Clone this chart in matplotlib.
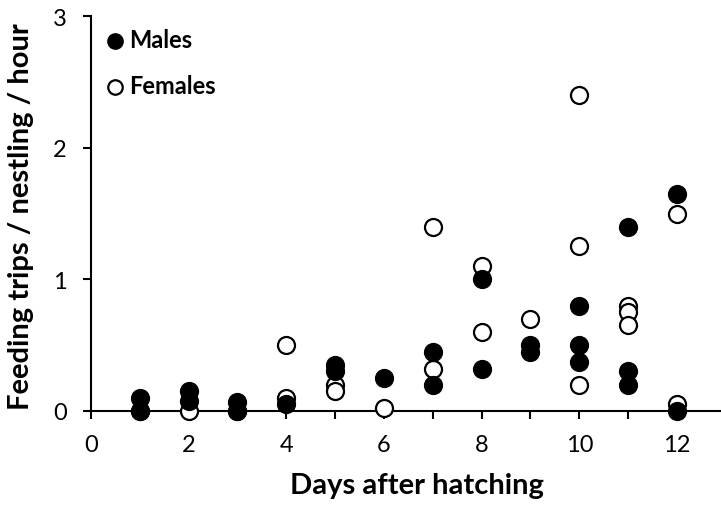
import matplotlib
matplotlib.use("Agg")
import matplotlib.pyplot as plt
from matplotlib.ticker import MultipleLocator

plt.rcParams['font.family'] = ['Lato', 'DejaVu Sans']

male_days = [1, 1, 2, 2, 3, 3, 4, 5, 5, 6, 7, 7, 8, 8, 9, 9, 10, 10, 10, 11, 11, 11, 12, 12]
male_vals = [0.1, 0.0, 0.15, 0.075, 0.07, 0.0, 0.05, 0.35, 0.3, 0.25, 0.45, 0.2, 1.0, 0.32,
             0.5, 0.45, 0.8, 0.5, 0.37, 1.4, 0.3, 0.2, 1.65, 0.0]
female_days = [1, 2, 3, 4, 4, 5, 5, 6, 7, 7, 8, 8, 9, 10, 10, 10, 11, 11, 11, 12, 12]
female_vals = [0.0, 0.0, 0.0, 0.5, 0.1, 0.2, 0.15, 0.02, 1.4, 0.32, 1.1, 0.6, 0.7,
               2.4, 1.25, 0.2, 0.8, 0.75, 0.65, 1.5, 0.05]

xticks = [0, 2, 4, 6, 8, 10, 12]
yticks = [0, 1, 2, 3]

fig = plt.figure(figsize=(7.21, 5.06), dpi=100)
ax = fig.add_axes([0.126, 0.186, 0.874, 0.78])

ax.scatter(female_days, female_vals, s=150, facecolors='white', edgecolors='black',
           linewidths=1.6, label='Females', zorder=3, clip_on=False)
ax.scatter(male_days, male_vals, s=150, facecolors='black', edgecolors='black',
           linewidths=1.6, label='Males', zorder=4, clip_on=False)

ax.set_xlim(0, 12.9)
ax.set_ylim(0, 3)
ax.set_xticks(xticks)
ax.xaxis.set_minor_locator(MultipleLocator(1))
ax.set_yticks(yticks)
ax.tick_params(axis='both', which='both', direction='out', width=1.5, length=5.5, labelsize=17)
ax.tick_params(axis='x', which='major', pad=11)
ax.tick_params(axis='y', which='major', pad=12)
for s in ['top', 'right']:
    ax.spines[s].set_visible(False)
for s in ['left', 'bottom']:
    ax.spines[s].set_linewidth(1.5)

ax.set_xlabel('Days after hatching', fontsize=21, fontweight='bold')
ax.xaxis.set_label_coords(0.517, -0.155)
ax.set_ylabel('Feeding trips / nestling / hour', fontsize=21, fontweight='bold')
ax.yaxis.set_label_coords(-0.09, 0.495)

h, l = ax.get_legend_handles_labels()
leg = ax.legend(h[::-1], l[::-1], loc='upper left', bbox_to_anchor=(-0.026, 1.012), frameon=False,
                prop={'weight': 'bold', 'size': 17}, handletextpad=-0.4, labelspacing=0.98,
                borderaxespad=0.3, markerscale=0.85)

fig.savefig('out.png', dpi=100)
